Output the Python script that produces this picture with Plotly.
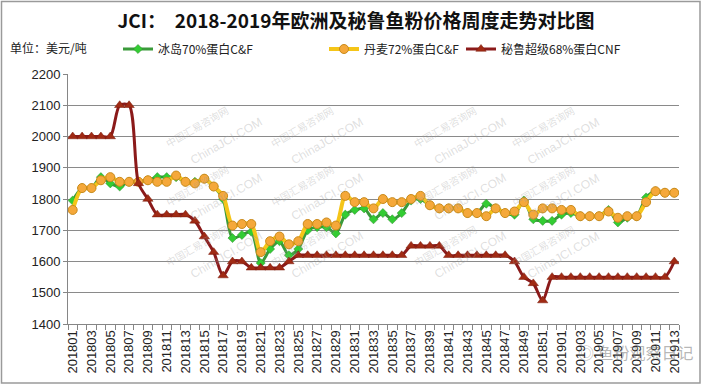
import plotly.graph_objects as go

weeks_2018 = [f"2018{w:02d}" for w in range(1, 53)]
weeks_2019 = [f"2019{w:02d}" for w in range(1, 14)]
categories = weeks_2018 + weeks_2019

iceland_70 = [1795, 1835, 1835, 1870, 1850, 1840, 1855, 1855, 1860, 1870,
              1870, 1870, 1855, 1855, 1865, 1840, 1800, 1675, 1685, 1695,
              1595, 1640, 1665, 1620, 1640, 1700, 1710, 1710, 1690, 1750,
              1765, 1770, 1735, 1755, 1735, 1755, 1795, 1800, 1780, 1770,
              1770, 1770, 1755, 1755, 1785, 1770, 1755, 1750, 1795, 1735,
              1730, 1730, 1750, 1755, 1745, 1745, 1745, 1765, 1725, 1740,
              1745, 1805, 1825, 1820, 1820]

denmark_72 = [1765, 1835, 1835, 1860, 1870, 1855, 1855, 1855, 1860, 1855,
              1855, 1875, 1855, 1850, 1865, 1840, 1810, 1715, 1720, 1720,
              1630, 1665, 1680, 1655, 1665, 1720, 1720, 1725, 1715, 1810,
              1790, 1790, 1770, 1800, 1790, 1790, 1800, 1810, 1780, 1770,
              1770, 1770, 1755, 1755, 1745, 1770, 1755, 1760, 1790, 1750,
              1770, 1770, 1765, 1765, 1745, 1745, 1745, 1760, 1740, 1745,
              1745, 1790, 1825, 1820, 1820]

peru_68 = [2000, 2000, 2000, 2000, 2000, 2100, 2100, 1850, 1800, 1750,
           1750, 1750, 1750, 1730, 1680, 1630, 1555, 1600, 1600, 1580,
           1580, 1580, 1580, 1600, 1620, 1620, 1620, 1620, 1620, 1620,
           1620, 1620, 1620, 1620, 1620, 1620, 1650, 1650, 1650, 1650,
           1620, 1620, 1620, 1620, 1620, 1620, 1620, 1600, 1550, 1530,
           1475, 1550, 1550, 1550, 1550, 1550, 1550, 1550, 1550, 1550,
           1550, 1550, 1550, 1550, 1600]

tick_text = [c if i % 2 == 0 else "" for i, c in enumerate(categories)]
y_ticks = list(range(1400, 2201, 100))

FONT = "Liberation Sans, Noto Sans CJK SC, sans-serif"
CJK = "Noto Sans CJK SC, sans-serif"

L, R, T, B = 68, 679, 74, 324
W, H = R - L, B - T


def px(x):
    return (x - L) / W


def py(y):
    return (B - y) / H


fig = go.Figure()
fig.add_trace(go.Scatter(
    x=categories, y=iceland_70, name="冰岛70%蛋白C&F", mode="lines+markers",
    line=dict(color="#3a9a3a", width=3, shape="spline", smoothing=0.8),
    marker=dict(symbol="diamond", size=7, color="#33cc33", line=dict(color="#2a8a2a", width=0.5)),
    legend="legend", showlegend=True))
fig.add_trace(go.Scatter(
    x=categories, y=denmark_72, name="丹麦72%蛋白C&F", mode="lines+markers",
    line=dict(color="#f5c518", width=4, shape="spline", smoothing=0.8),
    marker=dict(symbol="circle", size=9, color="#f5a83a", line=dict(color="#c98a1a", width=1)),
    legend="legend2", showlegend=True))
fig.add_trace(go.Scatter(
    x=categories, y=peru_68, name="秘鲁超级68%蛋白CNF", mode="lines+markers",
    line=dict(color="#8b1a1a", width=3, shape="spline", smoothing=0.8),
    marker=dict(symbol="triangle-up", size=9, color="#a02a14", line=dict(color="#7a1a0a", width=0.5)),
    legend="legend3", showlegend=True))

# watermarks
wm_cols = [160, 302, 445, 580]
wm_rows = [100, 185, 272]
annotations = []
for cx in wm_cols:
    for cy in wm_rows:
        annotations.append(dict(x=px(cx), y=py(cy), text="中国汇易咨询网", showarrow=False,
                                xref="paper", yref="paper", textangle=-30,
                                font=dict(family=CJK, size=10, color="rgba(160,160,160,0.35)")))
        annotations.append(dict(x=px(cx + 25), y=py(cy + 12), text="ChinaJCI.COM", showarrow=False,
                                xref="paper", yref="paper", textangle=-30,
                                font=dict(family=FONT, size=12, color="rgba(160,160,160,0.35)")))

annotations.append(dict(x=px(8), y=py(48), xref="paper", yref="paper",
                        xanchor="left", yanchor="middle", showarrow=False, text="单位：美元/吨",
                        font=dict(family=CJK, size=12, color="#222")))
annotations.append(dict(x=px(696), y=py(352), xref="paper", yref="paper",
                        xanchor="right", yanchor="middle", showarrow=False, text="◎ 鱼粉观察日记",
                        font=dict(family=CJK, size=16, color="rgba(120,120,120,0.55)")))

leg_common = dict(orientation="h", y=py(49), xanchor="left", yanchor="middle",
                  font=dict(family=CJK, size=12, color="#222"), itemwidth=30,
                  bgcolor="rgba(0,0,0,0)")

fig.update_layout(
    width=702, height=385,
    margin=dict(l=L, r=702 - R, t=T, b=385 - B, autoexpand=False),
    paper_bgcolor="white", plot_bgcolor="white",
    showlegend=True,
    title=dict(text="<b>JCI：  2018-2019年欧洲及秘鲁鱼粉价格周度走势对比图</b>",
               x=356 / 702, xanchor="center", y=1 - 21 / 385, yanchor="middle",
               font=dict(family=CJK, size=19, color="#111")),
    font=dict(family=FONT, size=12, color="#222"),
    legend=dict(x=px(118), **leg_common),
    legend2=dict(x=px(324), **leg_common),
    legend3=dict(x=px(461), **leg_common),
    annotations=annotations,
    shapes=[dict(type="rect", xref="paper", yref="paper",
                 x0=px(1.5), x1=px(700), y0=py(383), y1=py(1.5),
                 line=dict(color="#9a9a9a", width=1.5), layer="below")],
)
fig.update_xaxes(
    type="category", categoryorder="array", categoryarray=categories,
    range=[-0.5, len(categories) - 0.5], automargin=False,
    tickmode="array", tickvals=categories, ticktext=tick_text,
    tickson="boundaries", ticks="outside", ticklen=5, tickcolor="#868686",
    tickangle=-90, tickfont=dict(family=FONT, size=13, color="#222"),
    showline=True, linecolor="#868686", linewidth=1, showgrid=False, zeroline=False,
)
fig.update_yaxes(
    range=[1400, 2200], tickmode="array", tickvals=y_ticks, automargin=False,
    ticks="outside", ticklen=4, tickcolor="#868686",
    tickfont=dict(family=FONT, size=13, color="#222"),
    showline=True, linecolor="#868686", linewidth=1,
    showgrid=True, gridcolor="#8a8a8a", gridwidth=1, zeroline=False,
)

fig.write_html("out.html", config={"displayModeBar": False},
               post_script="document.body.style.margin='0px';")
